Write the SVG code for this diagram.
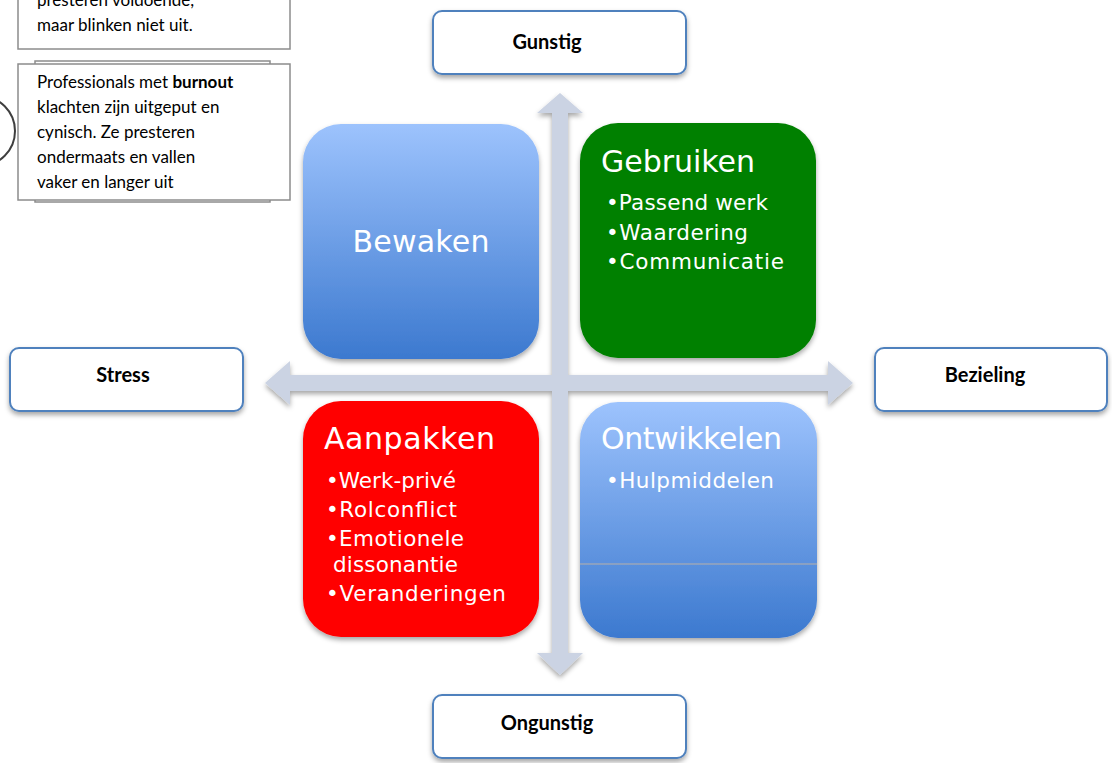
<svg xmlns="http://www.w3.org/2000/svg" width="1112" height="763" viewBox="0 0 1112 763">
<style>
.lbl{fill:#fff;stroke:#4f81bd;stroke-width:2}
.lt{font-family:Lato,"Liberation Sans",sans-serif;font-weight:bold;font-size:20px;fill:#000;text-anchor:middle}
.note{fill:#fff;stroke:#8c8c8c;stroke-width:1.5}
.nt{font-family:Lato,"Liberation Sans",sans-serif;font-size:17px;fill:#000}
.qt{font-family:"DejaVu Sans",sans-serif;fill:#fff;font-size:30px}
.qb{font-family:"DejaVu Sans",sans-serif;fill:#fff;font-size:21.5px}
</style>
<defs>
<linearGradient id="blue" x1="0" y1="0" x2="0" y2="1">
<stop offset="0" stop-color="#9dc3fd"/>
<stop offset="1" stop-color="#3c79cf"/>
</linearGradient>
<filter id="sh" x="-10%" y="-10%" width="120%" height="130%">
<feDropShadow dx="0" dy="3" stdDeviation="2.5" flood-color="#000" flood-opacity="0.35"/>
</filter>
</defs>
<rect width="1112" height="763" fill="#fff"/>

<g id="notes">
<rect class="note" x="18" y="-20" width="272" height="69"/>
<text class="nt"><tspan x="37" y="6">presteren voldoende,</tspan><tspan x="37" y="31">maar blinken niet uit.</tspan></text>
<rect class="note" x="35" y="61" width="235" height="141"/>
<rect class="note" x="18" y="64" width="272" height="136"/>
<text class="nt"><tspan x="37" y="88">Professionals met <tspan font-weight="bold">burnout</tspan></tspan><tspan x="37" y="113">klachten zijn uitgeput en</tspan><tspan x="37" y="138">cynisch. Ze presteren</tspan><tspan x="37" y="163">ondermaats en vallen</tspan><tspan x="37" y="188">vaker en langer uit</tspan></text>
<circle cx="-20" cy="131" r="35" fill="none" stroke="#3f3f3f" stroke-width="2"/>
</g>

<g id="connectors">
<path filter="url(#sh)" fill="#cbd3e3" d="M560,93 L583,113 L568,113 L568,375 L828,375 L828,361 L853,383 L828,405 L828,391 L568,391 L568,653 L583,653 L560,675 L537,653 L552,653 L552,391 L290,391 L290,405 L265,383 L290,361 L290,375 L552,375 L552,113 L537,113 Z"/>
</g>

<g id="gunstig">
<rect class="lbl" filter="url(#sh)" x="433" y="11" width="253" height="63" rx="9"/>
<text class="lt" x="547" y="49">Gunstig</text>
</g>
<g id="stress">
<rect class="lbl" filter="url(#sh)" x="10" y="348" width="233" height="63" rx="9"/>
<text class="lt" x="123" y="382">Stress</text>
</g>
<g id="bezieling">
<rect class="lbl" filter="url(#sh)" x="875" y="348" width="232" height="63" rx="9"/>
<text class="lt" x="985" y="382">Bezieling</text>
</g>
<g id="ongunstig">
<rect class="lbl" filter="url(#sh)" x="433" y="695" width="253" height="63" rx="9"/>
<text class="lt" x="547" y="730">Ongunstig</text>
</g>

<g id="bewaken">
<rect filter="url(#sh)" x="303" y="124" width="236" height="235" rx="38" fill="url(#blue)"/>
<text class="qt" x="421" y="252" text-anchor="middle" textLength="137">Bewaken</text>
</g>
<g id="gebruiken">
<rect filter="url(#sh)" x="580" y="123" width="236" height="235" rx="38" fill="#008000"/>
<text class="qt" x="601" y="172" textLength="154">Gebruiken</text>
<text class="qb"><tspan x="606" y="210" textLength="162">•Passend werk</tspan><tspan x="606" y="240" textLength="142">•Waardering</tspan><tspan x="606" y="269" textLength="178">•Communicatie</tspan></text>
</g>
<g id="aanpakken">
<rect filter="url(#sh)" x="303" y="401" width="236" height="236" rx="38" fill="#ff0000"/>
<text class="qt" x="324" y="449" textLength="171">Aanpakken</text>
<text class="qb"><tspan x="326" y="488" textLength="130">•Werk-privé</tspan><tspan x="326" y="517" textLength="131">•Rolconflict</tspan><tspan x="326" y="546" textLength="138">•Emotionele</tspan><tspan x="333" y="572" textLength="125">dissonantie</tspan><tspan x="326" y="601" textLength="180">•Veranderingen</tspan></text>
</g>
<g id="ontwikkelen">
<rect filter="url(#sh)" x="580" y="402" width="237" height="236" rx="38" fill="url(#blue)"/>
<line x1="580" y1="564" x2="817" y2="564" stroke="#b8b0a8" stroke-width="1"/>
<text class="qt" x="601" y="449" textLength="181">Ontwikkelen</text>
<text class="qb"><tspan x="606" y="488" textLength="168">•Hulpmiddelen</tspan></text>
</g>
</svg>
